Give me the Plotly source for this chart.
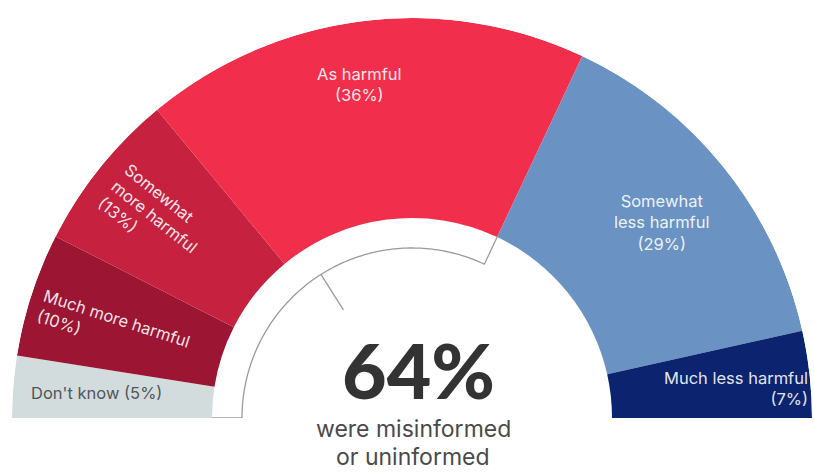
import numpy as np
import plotly.graph_objects as go

# Survey answers, left to right around the half ring
categories = ["Don't know", "Much more harmful", "Somewhat more harmful",
              "As harmful", "Somewhat less harmful", "Much less harmful"]
shares = [5, 10, 13, 36, 29, 7]
label_texts = ["Don't know (5%)",
               "Much more harmful<br>(10%)",
               "Somewhat<br>more harmful<br>(13%)",
               "As harmful<br>(36%)",
               "Somewhat<br>less harmful<br>(29%)",
               "Much less harmful<br>(7%)"]
colors = ["#d3dcdd", "#9c1533", "#c6213f", "#f12e4c", "#6a93c3", "#0c2470"]

# The first four answers count as misinformed or uninformed
misinformed_count = 4
headline_lines = ["were misinformed", "or uninformed"]

# Per-label placement style: radius fraction, rotation, alignment, colour, pixel nudge
label_radius = [0.79, 0.785, 0.84, 0.84, 0.79, 0.815]
label_rotate = [False, True, True, False, False, False]
label_align = ["center", "left", "left", "center", "center", "right"]
label_color = ["#505558", "rgba(255,255,255,0.9)", "rgba(255,255,255,0.9)",
               "rgba(255,255,255,0.9)", "rgba(255,255,255,0.9)", "rgba(255,255,255,0.9)"]
label_nudge = [(0, 0), (0, 8), (4, 9), (-10, 0), (3, 2), (0, 6)]

FONT = "Inter"
W, H = 814, 472
CX, CY, R = 412, 418, 400          # ring centre and outer radius in pixels
INNER = 0.5                          # ring inner radius (fraction of R)
BRACKET_R = 0.425                    # radius of the bracket arc

DEG_PER_PCT = 180 / sum(shares)
cum = np.concatenate([[0], np.cumsum(shares)[:-1]])
theta_mid = [180 - (c + v / 2) * DEG_PER_PCT for c, v in zip(cum, shares)]
widths = [v * DEG_PER_PCT for v in shares]

fig = go.Figure()

fig.add_trace(go.Barpolar(
    r=[1 - INNER] * len(shares),
    base=[INNER] * len(shares),
    theta=theta_mid,
    width=widths,
    marker=dict(color=colors, line=dict(width=0)),
    text=categories,
    hoverinfo="text",
    showlegend=False,
))

# Bracket spanning the misinformed share
mis_total = sum(shares[:misinformed_count])
end_theta = 180 - mis_total * DEG_PER_PCT
arc_theta = np.linspace(180, end_theta, 120)
br_theta = [180] + list(arc_theta) + [end_theta]
br_r = [INNER] + [BRACKET_R] * len(arc_theta) + [INNER]
fig.add_trace(go.Scatterpolar(
    r=br_r, theta=br_theta, mode="lines",
    line=dict(color="#9a9a9a", width=1.3),
    hoverinfo="skip", showlegend=False,
))
mid_theta = 180 - mis_total / 2 * DEG_PER_PCT
fig.add_trace(go.Scatterpolar(
    r=[BRACKET_R, 0.32], theta=[mid_theta, mid_theta], mode="lines",
    line=dict(color="#9a9a9a", width=1.3),
    hoverinfo="skip", showlegend=False,
))

# Slice labels, placed at each slice's mid angle
annotations = []
for txt, th, rf, rot, al, col, (dx, dy) in zip(label_texts, theta_mid, label_radius,
                                               label_rotate, label_align, label_color,
                                               label_nudge):
    px = CX + rf * R * np.cos(np.radians(th)) + dx
    py = CY - rf * R * np.sin(np.radians(th)) + dy
    annotations.append(dict(
        x=px / W, y=1 - py / H, xref="paper", yref="paper",
        xanchor="center", yanchor="middle",
        text=txt, showarrow=False, align=al,
        textangle=(180 - th) if rot else 0,
        font=dict(family=FONT, size=16.5, color=col),
    ))

annotations.append(dict(
    x=418 / W, y=1 - 369 / H, xref="paper", yref="paper",
    xanchor="center", yanchor="middle",
    text=f"{mis_total}%", showarrow=False,
    font=dict(family="Lato", size=77, color="#333333", weight=900),
))
for i, line in enumerate(headline_lines):
    annotations.append(dict(
        x=413 / W, y=1 - (429 + 28 * i) / H, xref="paper", yref="paper",
        xanchor="center", yanchor="middle",
        text=line, showarrow=False,
        font=dict(family=FONT, size=23, color="#4a4a4a"),
    ))

fig.update_layout(
    width=W, height=H,
    margin=dict(l=0, r=0, t=0, b=0),
    paper_bgcolor="white",
    plot_bgcolor="white",
    polar=dict(
        domain=dict(x=[(CX - R) / W, (CX + R) / W],
                    y=[1 - CY / H, 1 - (CY - R) / H]),
        sector=[0, 180],
        bgcolor="rgba(0,0,0,0)",
        radialaxis=dict(visible=False, range=[0, 1]),
        angularaxis=dict(visible=False),
    ),
    annotations=annotations,
    showlegend=False,
)

fig.write_html("out.html")
